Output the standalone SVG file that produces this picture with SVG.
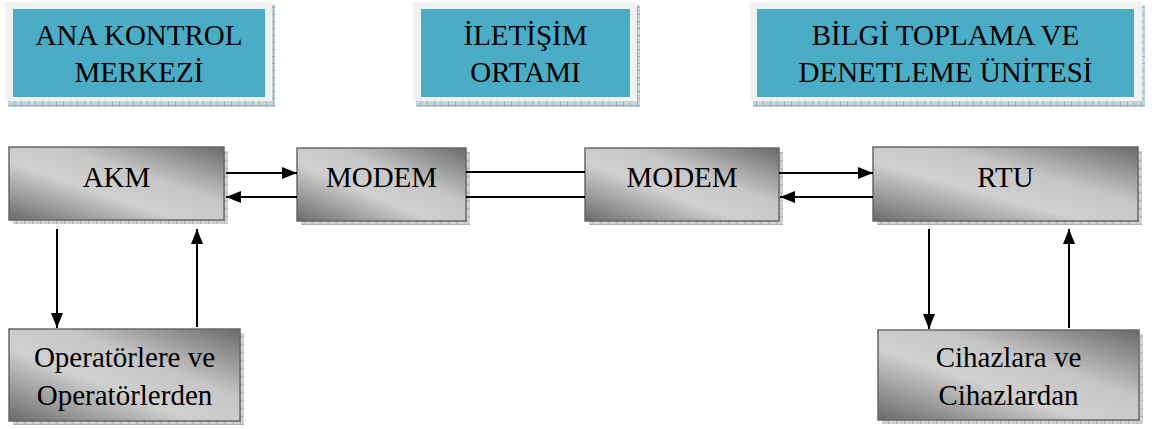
<svg xmlns="http://www.w3.org/2000/svg" width="1152" height="429" viewBox="0 0 1152 429">
  <defs>
    <style>
      .frame { fill: #f2f2f2; }
      .teal { fill: #4bacc6; }
      .hshadow { fill: url(#hatchBlue); }
      .gshadow { fill: url(#hatchGray); }
      .box { fill: url(#metal); stroke: #686868; stroke-width: 1.5; }
      .label { font-family: "Liberation Serif", "Times New Roman", "DejaVu Serif", serif; font-size: 29px; fill: #000; text-anchor: middle; }
      .wire { stroke: #000; stroke-width: 2; fill: none; }
      .arrow { marker-end: url(#head); }
    </style>
    <linearGradient id="metal" x1="1" y1="0" x2="0" y2="1">
      <stop offset="0" stop-color="#6a6a6a"/>
      <stop offset="0.38" stop-color="#c6c6c6"/>
      <stop offset="0.6" stop-color="#d0d0d0"/>
      <stop offset="1" stop-color="#6a6a6a"/>
    </linearGradient>
    <pattern id="hatchBlue" width="7" height="7" patternUnits="userSpaceOnUse">
      <rect width="7" height="7" fill="#c9d6dc"/>
      <path d="M0,0 H7 M0,0 V7" stroke="#6d8c9c" stroke-width="1"/>
    </pattern>
    <pattern id="hatchGray" width="8" height="8" patternUnits="userSpaceOnUse">
      <rect width="8" height="8" fill="#cfcfcf"/>
      <path d="M0,0 H8 M0,0 V8" stroke="#9a9a9a" stroke-width="1"/>
    </pattern>
    <marker id="head" viewBox="0 0 15 12" refX="15" refY="6" markerWidth="15" markerHeight="12" markerUnits="userSpaceOnUse" orient="auto">
      <path d="M0,0 L15,6 L0,12 z" fill="#000"/>
    </marker>
  </defs>

  <!-- section headers -->
  <g id="header-akm">
    <rect class="hshadow" x="8" y="5" width="267" height="102"/>
    <rect class="frame" x="5" y="2" width="267" height="99"/>
    <rect class="teal" x="13" y="9" width="252" height="88"/>
    <text class="label" x="139" y="45" font-family="Liberation Serif, serif">ANA KONTROL</text>
    <text class="label" x="139" y="82" font-family="Liberation Serif, serif">MERKEZİ</text>
  </g>
  <g id="header-comm">
    <rect class="hshadow" x="416" y="5" width="224" height="102"/>
    <rect class="frame" x="413" y="2" width="224" height="99"/>
    <rect class="teal" x="421" y="9" width="209" height="88"/>
    <text class="label" x="525.5" y="45">İLETİŞİM</text>
    <text class="label" x="525.5" y="82">ORTAMI</text>
  </g>
  <g id="header-rtu">
    <rect class="hshadow" x="753" y="5" width="392" height="102"/>
    <rect class="frame" x="750" y="2" width="392" height="99"/>
    <rect class="teal" x="757" y="9" width="377" height="88"/>
    <text class="label" x="945.5" y="45">BİLGİ TOPLAMA VE</text>
    <text class="label" x="945.5" y="82">DENETLEME ÜNİTESİ</text>
  </g>

  <!-- blocks -->
  <g id="akm">
    <rect class="gshadow" x="13" y="151" width="215" height="73"/>
    <rect class="box" x="9" y="147" width="215" height="73"/>
    <text class="label" x="116.5" y="187">AKM</text>
  </g>
  <g id="modem-left">
    <rect class="gshadow" x="301" y="152" width="169" height="73"/>
    <rect class="box" x="297" y="148" width="169" height="73"/>
    <text class="label" x="381.5" y="187">MODEM</text>
  </g>
  <g id="modem-right">
    <rect class="gshadow" x="589" y="152" width="194" height="73"/>
    <rect class="box" x="585" y="148" width="194" height="73"/>
    <text class="label" x="682" y="187">MODEM</text>
  </g>
  <g id="rtu">
    <rect class="gshadow" x="877" y="151" width="265" height="74"/>
    <rect class="box" x="873" y="147" width="265" height="74"/>
    <text class="label" x="1005.5" y="187">RTU</text>
  </g>
  <g id="operators">
    <rect class="gshadow" x="13" y="333" width="231" height="92"/>
    <rect class="box" x="9" y="329" width="231" height="92"/>
    <text class="label" x="124.5" y="367">Operatörlere ve</text>
    <text class="label" x="124.5" y="405">Operatörlerden</text>
  </g>
  <g id="devices">
    <rect class="gshadow" x="882" y="334" width="261" height="90"/>
    <rect class="box" x="878" y="330" width="261" height="90"/>
    <text class="label" x="1008.5" y="367">Cihazlara ve</text>
    <text class="label" x="1008.5" y="405">Cihazlardan</text>
  </g>

  <!-- connectors -->
  <g id="connectors">
    <path class="wire arrow" d="M226,173 H297"/>
    <path class="wire arrow" d="M297,197 H226"/>
    <path class="wire" d="M466,172 H585"/>
    <path class="wire" d="M466,197 H585"/>
    <path class="wire arrow" d="M779,173 H873"/>
    <path class="wire arrow" d="M873,197 H780"/>
    <path class="wire arrow" d="M57,229 V328"/>
    <path class="wire arrow" d="M197,327 V229"/>
    <path class="wire arrow" d="M929,229 V329"/>
    <path class="wire arrow" d="M1069,328 V229"/>
  </g>
</svg>
